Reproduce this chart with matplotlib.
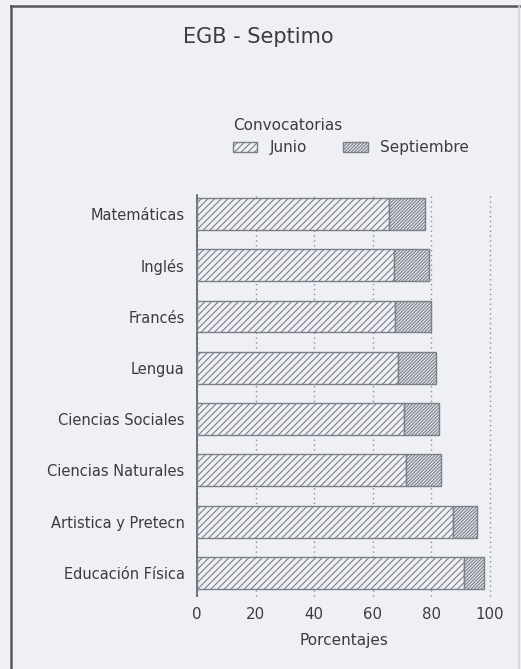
import matplotlib.pyplot as plt
from matplotlib.patches import Patch
from matplotlib.lines import Line2D

plt.rcParams['font.family'] = ['DejaVu Sans']
plt.rcParams['hatch.linewidth'] = 0.8

materias = ['Matemáticas', 'Inglés', 'Francés', 'Lengua', 'Ciencias Sociales',
            'Ciencias Naturales', 'Artistica y Pretecn', 'Educación Física']
junio = [65.5, 67.3, 67.6, 68.7, 70.6, 71.3, 87.5, 91.1]
septiembre = [12.2, 12.0, 12.4, 13.0, 12.1, 11.9, 7.9, 6.9]
xticks = [0, 20, 40, 60, 80, 100]

bg = '#eef0f6'
txt = '#3c3c40'
edge = '#7c7f86'
h_jun = '/////'
h_sep = '/' * 10

fig = plt.figure(figsize=(5.21, 6.69), dpi=100)
fig.patch.set_facecolor(bg)
ax = fig.add_axes([197 / 521, 1 - 596 / 669, 293 / 521, 401 / 669])
ax.set_facecolor(bg)

pos = list(range(len(materias) - 1, -1, -1))
ax.barh(pos, junio, height=0.62, color=bg, edgecolor=edge, hatch=h_jun,
        linewidth=1.0, zorder=3)
ax.barh(pos, septiembre, left=junio, height=0.62, color='#e2e5ec', edgecolor=edge,
        hatch=h_sep, linewidth=1.0, zorder=3)

ax.set_xlim(0, 100)
ax.set_ylim(-0.45, 7.37)
ax.set_xticks(xticks)
ax.set_xticklabels([str(v) for v in xticks], fontsize=10.8, color=txt)
ax.set_yticks(pos)
ax.set_yticklabels(materias, fontsize=10.5, color=txt)
ax.tick_params(axis='both', length=0)
ax.tick_params(axis='x', pad=8)
ax.tick_params(axis='y', pad=9)
ax.xaxis.grid(True, linestyle=(0, (1, 2.5)), color='#8a8d94', linewidth=1.0, zorder=0)
for gl in ax.get_xgridlines():
    gl.set_clip_on(False)
ax.set_axisbelow(True)
for s in ['top', 'right', 'bottom']:
    ax.spines[s].set_visible(False)
ax.spines['left'].set_color('#5a5d63')
ax.spines['left'].set_linewidth(1.2)
ax.set_xlabel('Porcentajes', fontsize=11, color=txt, labelpad=8)

fig.text(258 / 521, 1 - 37 / 669, 'EGB - Septimo', fontsize=15, color=txt,
         ha='center', va='center')

handles = [Patch(facecolor=bg, edgecolor=edge, hatch=h_jun, label='Junio'),
           Patch(facecolor='#e2e5ec', edgecolor=edge, hatch=h_sep, label='Septiembre')]
leg = fig.legend(handles=handles, loc='upper left', bbox_to_anchor=(219 / 521, 1 - 104 / 669),
                 ncol=2, frameon=False, title='Convocatorias', fontsize=11,
                 title_fontsize=11, alignment='left', handlelength=1.6,
                 handleheight=0.6, handletextpad=0.8, columnspacing=2.4)
for t in leg.get_texts():
    t.set_color(txt)
leg.get_title().set_color(txt)

# marco de la pagina
fig.add_artist(Line2D([11 / 521, 11 / 521], [0, 1 - 6 / 669], color='#55575c', linewidth=1.8))
fig.add_artist(Line2D([11 / 521, 519 / 521], [1 - 6 / 669, 1 - 6 / 669], color='#55575c', linewidth=1.8))
fig.add_artist(Line2D([519 / 521, 519 / 521], [0, 1 - 6 / 669], color='#d4d6dc', linewidth=1.2))

fig.savefig('out.png', dpi=100, facecolor=bg)
